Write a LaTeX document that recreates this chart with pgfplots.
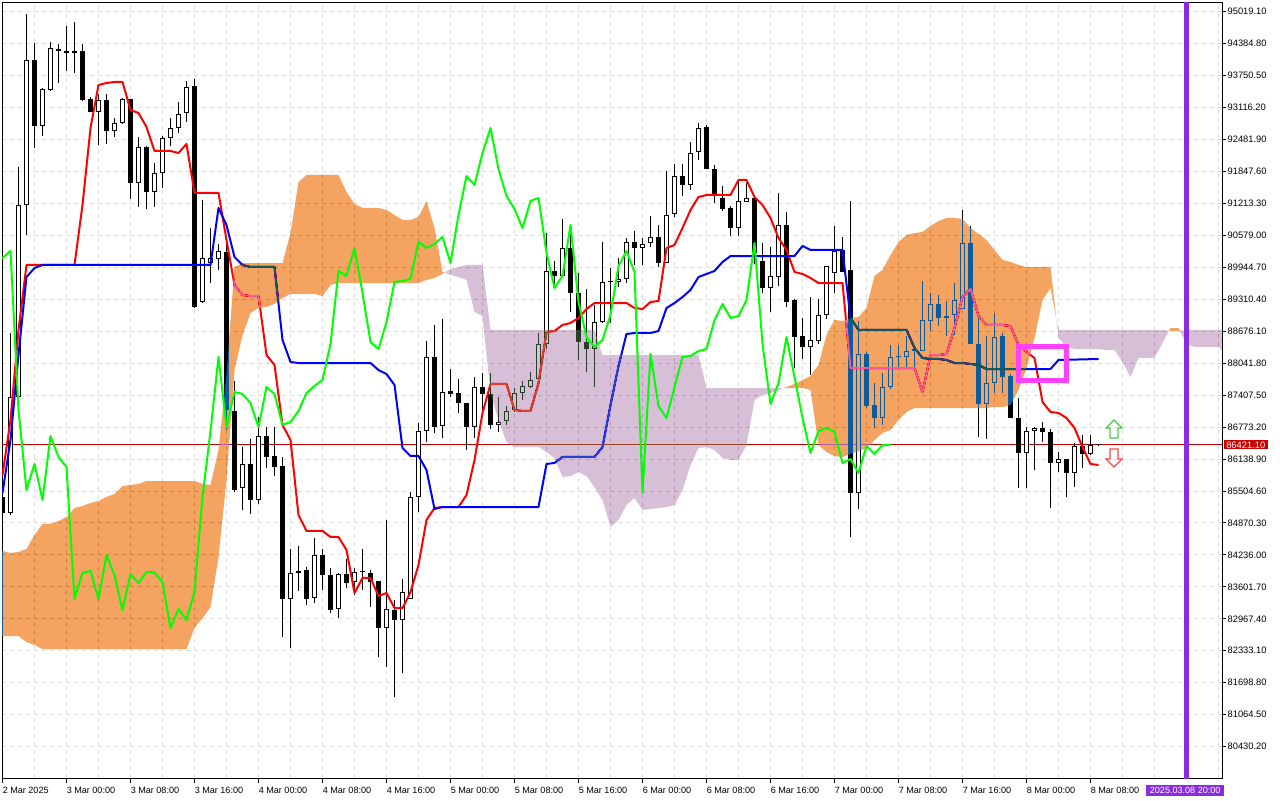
\documentclass[border=0pt]{standalone}
\usepackage{pgfplots}
\pgfplotsset{compat=1.18}
\usepackage{pgfplotstable}
\usepackage{fontspec}
\setmainfont{Liberation Sans}
\definecolor{cloudO}{RGB}{11,91,159}
\definecolor{cloudP}{RGB}{39,64,39}
\definecolor{gridc}{RGB}{221,221,221}
\definecolor{pline}{RGB}{190,0,0}
\definecolor{plabel}{RGB}{204,0,0}
\definecolor{vline}{RGB}{138,43,226}
\definecolor{boxc}{RGB}{255,64,255}
\definecolor{chik}{RGB}{0,255,0}
\definecolor{upc}{RGB}{70,205,70}
\definecolor{dnc}{RGB}{255,70,70}
\pgfdeclareplotmark{upar}{%
  \pgfpathmoveto{\pgfqpoint{0pt}{6.75pt}}%
  \pgfpathlineto{\pgfqpoint{6pt}{0.75pt}}%
  \pgfpathlineto{\pgfqpoint{3pt}{0.75pt}}%
  \pgfpathlineto{\pgfqpoint{3pt}{-6.75pt}}%
  \pgfpathlineto{\pgfqpoint{-3pt}{-6.75pt}}%
  \pgfpathlineto{\pgfqpoint{-3pt}{0.75pt}}%
  \pgfpathlineto{\pgfqpoint{-6pt}{0.75pt}}%
  \pgfpathclose\pgfusepathqstroke}
\pgfdeclareplotmark{dnar}{%
  \pgfpathmoveto{\pgfqpoint{0pt}{-6.75pt}}%
  \pgfpathlineto{\pgfqpoint{6pt}{-0.75pt}}%
  \pgfpathlineto{\pgfqpoint{3pt}{-0.75pt}}%
  \pgfpathlineto{\pgfqpoint{3pt}{6.75pt}}%
  \pgfpathlineto{\pgfqpoint{-3pt}{6.75pt}}%
  \pgfpathlineto{\pgfqpoint{-3pt}{-0.75pt}}%
  \pgfpathlineto{\pgfqpoint{-6pt}{-0.75pt}}%
  \pgfpathclose\pgfusepathqstroke}

\pgfplotstableread{
t o h l c
-8 85386 85524 85028 85068
-7 85068 88641 85028 87370
-6 87370 91936 87311 91182
-5 91182 94973 90586 94060
-4 94060 94397 92313 92750
-3 92750 93504 92551 93484
-2 93464 94417 93445 94298
-1 94278 94378 93603 94239
0 94239 94735 93842 94199
1 94189 94814 93802 94229
2 94239 94378 93246 93266
3 93286 93326 93028 93028
4 93028 93385 92373 93266
5 93266 93385 92393 92651
6 92651 92909 92532 92809
7 92809 93306 92790 93286
8 93286 93286 91301 91618
9 91618 92532 91142 92333
10 92333 92353 91102 91440
11 91440 92015 91142 91817
12 91817 92551 91519 92512
13 92512 92909 92353 92710
14 92710 93226 92611 92988
15 93008 93643 92829 93524
16 93544 93683 89137 89157
17 89256 91281 89236 90130
18 90030 90725 89633 90130
19 90110 90408 89892 90269
20 90249 90408 86715 87112
21 87092 87688 85485 85524
22 85564 86378 85127 86041
23 86041 86537 85048 85326
24 85326 86974 85247 86596
25 86596 86775 85961 86180
26 86200 86775 85802 85981
27 86001 86180 82607 83361
28 83361 84353 82388 83877
29 83877 84413 83520 83917
30 83937 83996 83242 83361
31 83381 84572 83282 84234
32 84234 84353 83540 83837
33 83837 83976 83083 83142
34 83162 83877 82984 83857
35 83857 84155 83579 83678
36 83698 83976 83440 83897
37 83907 84353 83540 83887
38 83877 83937 83202 83698
39 83718 83718 82210 82785
40 82785 84929 82011 83162
41 83142 83341 81416 82944
42 82944 83758 81892 83500
43 83361 85485 83361 85386
44 85386 86854 85088 86696
45 86696 88482 86477 88164
46 88164 88800 86656 86775
47 86795 88919 86557 87470
48 87490 87926 87370 87430
49 87450 87728 87053 87251
50 87251 87251 86318 86775
51 86775 87768 86557 87569
52 87569 87847 86974 87430
53 87430 87847 86735 86815
54 86815 87370 86676 86874
55 86894 87192 86815 87093
56 87113 87549 87073 87450
57 87450 87688 87311 87589
58 87569 87867 87549 87708
59 87728 88641 87688 88423
60 88423 90626 88323 89872
61 89872 90070 89534 89772
62 89772 90904 89772 90328
63 90328 90666 89058 89435
64 89435 89832 88105 88462
65 88462 89514 87867 88323
66 88323 89197 87569 88859
67 88859 90447 88839 89653
68 89653 89931 88839 89673
69 89653 90130 89554 89713
70 89713 90527 89633 90447
71 90447 90666 89991 90328
72 90328 90527 89991 90408
73 90427 90963 90348 90547
74 90547 90785 89951 90030
75 90030 91857 90030 90983
76 91003 91996 90943 91757
77 91757 91996 91360 91579
78 91579 92432 91479 92214
79 92234 92809 92075 92710
80 92730 92770 91896 91896
81 91896 91976 91221 91360
82 91321 91559 91063 91102
83 91122 91162 90566 90725
84 90725 91638 90566 91261
85 91241 91618 91241 91321
86 91321 91321 90012 90229
87 90070 90427 89435 89534
88 89534 90348 89058 89772
89 89752 91420 89574 90785
90 90785 91043 89157 89256
91 89296 89316 87946 88561
92 88581 88939 88125 88363
93 88363 89356 87807 88502
94 88482 89316 88423 88998
95 88998 89971 88919 89971
96 89832 90765 89435 90269
97 90289 90547 89852 89852
98 89892 91261 84592 85465
99 85465 88879 85147 88224
100 88224 88264 87152 87192
101 87212 87648 86755 86954
102 86954 87847 86815 87569
103 87569 88403 87529 88164
104 88164 88403 87946 88184
105 88164 88581 87966 88284
106 88284 88403 87966 88323
107 88284 89673 88284 88899
108 88879 89435 88681 89217
109 89217 89395 88780 88939
110 88939 89276 88581 88978
111 88998 89633 88601 89296
112 89118 91083 89118 90427
113 90427 90765 88423 88423
114 88423 88959 86577 87232
115 87232 88581 86537 87648
116 87648 89038 87450 88561
117 88581 88641 87450 87767
118 87787 87827 86954 86954
119 86954 87351 85564 86259
120 86259 86775 85564 86696
121 86696 86775 85922 86755
122 86755 86874 86477 86676
123 86676 86735 85167 86061
124 86061 86279 85882 86140
125 86140 86140 85386 85862
126 85862 86458 85584 86398
127 86398 86616 85961 86239
128 86239 86616 86219 86418
129 86421 86425 86418 86421
}\candles

\pgfplotstableread{
t v
-9 85822
-8 85822
-7 86914
-6 88700
-5 89991
1 89991
2 91182
3 92710
4 93564
5 93603
6 93623
7 93623
8 93067
9 93008
10 92730
11 92254
13 92254
14 92214
15 92393
16 91420
19 91420
20 90487
21 89594
22 89395
23 89375
24 89375
25 88204
26 88006
27 86815
28 86517
29 85028
30 84711
32 84711
33 84592
34 84592
35 84334
36 83480
37 83778
38 83778
39 83421
40 83480
41 83182
42 83182
43 83500
44 84036
45 84929
46 85167
47 85187
49 85187
50 85425
51 86120
52 87053
53 87629
55 87629
56 87113
57 87093
58 87093
59 87648
60 88661
61 88681
62 88800
63 88839
64 88939
65 89117
66 89236
70 89236
71 89137
72 89117
73 89256
74 89276
75 90328
76 90388
77 90725
78 91083
79 91341
80 91380
83 91380
84 91678
85 91678
86 91341
87 91182
88 90924
89 90527
90 90289
91 89852
92 89812
93 89733
94 89633
97 89633
98 87946
106 87946
107 87470
108 88204
109 88204
110 88224
111 88740
112 89356
113 89514
114 88978
115 88800
117 88800
118 88780
119 88403
120 88264
121 88145
122 87271
123 87073
124 87053
125 86954
126 86755
127 86378
128 86041
129 86021
}\tenkan

\pgfplotstableread{
t v
-9 85465
-8 85465
-7 86517
-6 88204
-5 89752
-4 89931
-3 89991
18 89991
19 91122
20 90785
21 90150
22 89991
23 89951
26 89951
27 88502
28 88065
29 88045
38 88045
39 87906
40 87827
41 87609
42 86358
43 86200
44 86200
45 85921
46 85147
47 85187
59 85187
60 86041
61 86061
62 86180
66 86180
67 86378
68 87212
69 87986
70 88621
71 88641
73 88641
74 88681
75 89137
76 89236
77 89355
78 89495
79 89752
80 89812
81 89872
82 90050
83 90169
91 90169
92 90368
93 90289
97 90289
98 88939
99 88701
105 88701
106 88343
107 88145
108 88125
109 88125
110 88105
111 88045
112 88045
113 88026
114 88006
115 87926
123 87926
124 88105
129 88125
}\kijun

\begin{document}
\begin{tikzpicture}
\fill[white] (-1.5pt,-16.125pt) rectangle (958.5pt,583.875pt);
\begin{axis}[
  name=ax, at={(0,0)}, anchor=south west,
  scale only axis, width=915pt, height=582pt,
  xmin=-8.0625, xmax=144.4375, ymin=79798, ymax=95201,
  axis background/.style={fill=white},
  axis line style={black, line width=0.75pt},
  tick align=outside, major tick length=3pt, minor tick length=0pt,
  tick style={black, line width=0.75pt},
  xtick pos=lower, ytick pos=right, yticklabel pos=right,
  xtick={-8,0,8,16,24,32,40,48,56,64,72,80,88,96,104,112,120,128},
  xticklabels={2 Mar 2025,3 Mar 00:00,3 Mar 08:00,3 Mar 16:00,4 Mar 00:00,4 Mar 08:00,4 Mar 16:00,5 Mar 00:00,5 Mar 08:00,5 Mar 16:00,6 Mar 00:00,6 Mar 08:00,6 Mar 16:00,7 Mar 00:00,7 Mar 08:00,7 Mar 16:00,8 Mar 00:00,8 Mar 08:00},
  minor xtick={-4,4,12,20,28,36,44,52,60,68,76,84,92,100,108,116,124,132,136,140,144},
  ytick={80430.2,81064.5,81698.8,82333.1,82967.4,83601.7,84236.0,84870.3,85504.6,86138.9,86773.2,87407.5,88041.8,88676.1,89310.4,89944.7,90579.0,91213.3,91847.6,92481.9,93116.2,93750.5,94384.8,95019.1},
  yticklabels={80430.20,81064.50,81698.80,82333.10,82967.40,83601.70,84236.00,84870.30,85504.60,86138.90,86773.20,87407.50,88041.80,88676.10,89310.40,89944.70,90579.00,91213.30,91847.60,92481.90,93116.20,93750.50,94384.80,95019.10},
  xmajorgrids, xminorgrids, ymajorgrids,
  major grid style={draw=gridc, dash pattern=on 3pt off 3pt, line width=0.75pt},
  minor grid style={draw=gridc, dash pattern=on 3pt off 3pt, line width=0.75pt},
  xticklabel style={font=\fontsize{6.8pt}{7.5pt}\selectfont, anchor=north west, inner sep=1pt, xshift=-1pt, yshift=-2.5pt},
  yticklabel style={font=\fontsize{7pt}{8pt}\selectfont, anchor=west, inner sep=1pt},
  extra y ticks={86421.1}, extra y tick labels={86421.10},
  extra y tick style={grid=none, major tick length=0pt,
    yticklabel style={fill=plabel, text=white, inner xsep=2pt, inner ysep=1pt, xshift=1pt}},
  extra x ticks={140}, extra x tick labels={2025.03.08 20:00},
  extra x tick style={grid=none, major tick length=0pt,
    xticklabel style={anchor=north, xshift=0pt, yshift=-2.5pt, fill=vline, text=white, inner xsep=3pt, inner ysep=1.6pt}},
]
% price line
\addplot[pline, line width=0.75pt] coordinates {(-9,86421.1) (146,86421.1)};
% wicks
\addplot[draw=none, mark=none, error bars/.cd, y dir=plus, y explicit, error mark=none,
  error bar style={draw=black, line width=0.75pt, solid}]
  table[x=t, y=l, y error plus expr={\thisrow{h}-\thisrow{l}}] {\candles};
% bodies
\addplot[draw=none, mark=none, error bars/.cd, y dir=plus, y explicit, error mark=none,
  error bar style={draw=black, line width=3.75pt, solid}]
  table[x=t, y expr={min(\thisrow{o},\thisrow{c})}, y error plus expr={max(abs(\thisrow{c}-\thisrow{o}),20)}] {\candles};
\addplot[draw=none, mark=none, error bars/.cd, y dir=plus, y explicit, error mark=none,
  error bar style={draw=white, line width=2.25pt, solid}]
  table[x=t, y expr={\thisrow{o}+20}, y error plus expr={max(\thisrow{c}-\thisrow{o}-40,0)}] {\candles};
% Tenkan / Kijun
\addplot[red, line width=1.5pt, line join=round] table[x=t, y=v] {\tenkan};
\addplot[blue, line width=1.5pt, line join=round] table[x=t, y=v] {\kijun};
% cloud (difference blend over white gives orange / thistle)
\addplot[draw=none, fill=cloudO, blend mode=difference] coordinates {
(-9,84314)(-8,84314)(-7,84274)(-6,84294)(-5,84353)(-4,84631)(-3,84850)(-2,84850)(-1,84909)(0,84989)(1,85167)(2,85207)(3,85267)(4,85306)(5,85386)(6,85445)(7,85604)(8,85624)(9,85644)(10,85703)(16,85703)(17,85644)(18,85624)(19,86318)(20,87807)(21,89951)(22,90030)(27,90030)(28,90626)(29,91638)(30,91777)(34,91777)(35,91440)(36,91202)(37,91122)(39,91122)(40,91083)(41,90983)(42,90884)(43,90884)(44,90944)(45,91261)(46,90725)(47,89852)(47.25,89837)
(47,89812)(46,89733)(45,89693)(44,89633)(34,89633)(33,89594)(32,89375)(31,89415)(28,89415)(27,89336)(26,89217)(25,89157)(24,89137)(23,89038)(22,88601)(21,87907)(20,85723)(19,84195)(18,83202)(17,82984)(16,82785)(15,82368)(-3,82368)(-4,82448)(-5,82507)(-6,82626)(-9,82626)} -- cycle;
\addplot[draw=none, fill=cloudP, blend mode=difference] coordinates {
(47.25,89837)(48,89911)(49,89951)(50,89991)(52,89991)(53,88701)(66,88701)(67,88204)(79,88204)(80,87549)(89,87549)(89.66,87549)
(89,87510)(88,87450)(87,87410)(86,87311)(85,86418)(84,86120)(83,86120)(82,86160)(81,86318)(80,86378)(79,86358)(78,86021)(77,85524)(76,85227)(75,85187)(74,85167)(73,85147)(72,85128)(71,85366)(70,85227)(69,84929)(68,84790)(67,85326)(66,85584)(65,85802)(64,85882)(63,85802)(62,85782)(61,86160)(60,86279)(59,86378)(56,86378)(55,86477)(54,86914)(53,87450)(52,88978)(51,89058)(50,89693)(49,89752)(48,89792)} -- cycle;
\addplot[draw=none, fill=cloudO, blend mode=difference] coordinates {
(89.66,87549)(90,87569)(91,87629)(92,87708)(93,87787)(94,88006)(95,88601)(96,88899)(97,88879)(98,88939)(99,88959)(100,89137)(101,89772)(102,89892)(103,90189)(104,90447)(105,90586)(106,90626)(107,90646)(108,90765)(109,90864)(110,90924)(111,90924)(112,90904)(113,90725)(114,90606)(115,90487)(116,90289)(117,90090)(118,90050)(119,89991)(120,89951)(123,89951)(123.72,88931)
(123,89534)(122,89296)(121,88542)(120,87946)(119,87510)(118,87212)(117,87172)(116,87172)(115,87152)(106,87152)(105,87073)(104,86914)(103,86716)(102,86656)(101,86517)(100,86358)(99,86298)(98,86239)(97,86180)(96,86200)(95,86279)(94,86418)(93,87510)(92,87549)(90,87549)} -- cycle;
\addplot[draw=none, fill=cloudP, blend mode=difference] coordinates {
(123.72,88931)(124,88701)(137,88701)(137.81,88685)(137,88443)(136,88145)(134,88145)(133,87768)(132,88065)(131,88304)(130,88304)(129,88323)(126,88323)(125,88363)(124,88542)} -- cycle;
\addplot[draw=none, fill=cloudO, blend mode=difference] coordinates {
(137.81,88685)(138,88740)(139,88740)(139.18,88685)(139,88681)(138,88681)} -- cycle;
\addplot[draw=none, fill=cloudP, blend mode=difference] coordinates {
(139.18,88685)(140,88701)(146,88701)(146,88204)(145,88204)(144,88363)(141,88363)(140,88423)} -- cycle;
% Chikou (close shifted 26 bars back)
\addplot[chik, line width=1.5pt, line join=round, blend mode=normal] table[x expr={\thisrow{t}-26}, y=c] {\candles};
% markers
\addplot[boxc, line width=3.75pt, line join=miter, blend mode=normal] coordinates {(119,88373) (125,88373) (125,87698) (119,87698)} -- cycle;
\addplot[only marks, mark=upar, blend mode=normal, mark options={draw=upc, line width=0.9pt, fill=none}] coordinates {(130.94,86735)};
\addplot[only marks, mark=dnar, blend mode=normal, mark options={draw=dnc, line width=0.9pt, fill=none}] coordinates {(130.94,86160)};
\addplot[vline, line width=3.75pt, blend mode=normal] coordinates {(140,79000) (140,96000)};
\end{axis}
\pgfresetboundingbox
\path[use as bounding box] (-1.5pt,-16.125pt) rectangle (958.5pt,583.875pt);
\end{tikzpicture}
\end{document}
